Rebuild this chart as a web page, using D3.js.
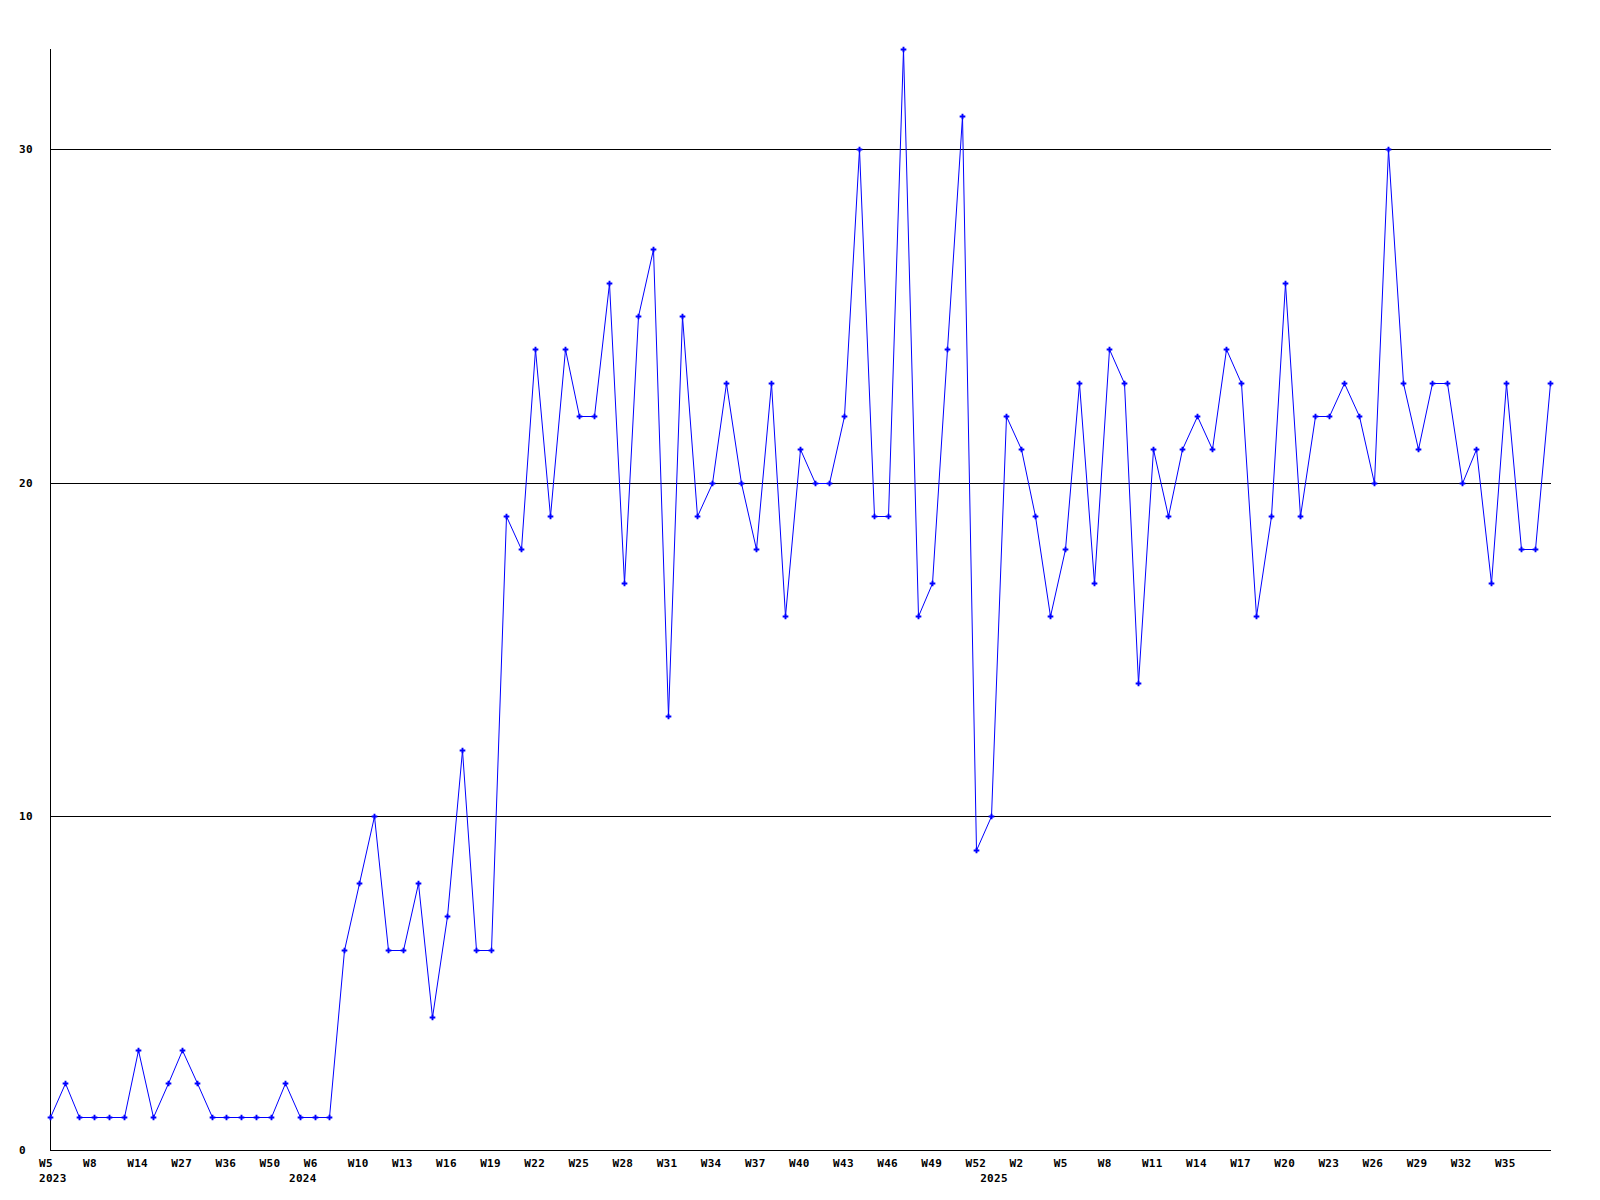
<!DOCTYPE html>
<html>
<head>
<meta charset="utf-8">
<script src="https://cdn.jsdelivr.net/npm/d3@7"></script>
<style>
  html, body { margin: 0; padding: 0; background: #fff; }
  svg { display: block; }
  text { font-family: "DejaVu Sans Mono", "Liberation Mono", monospace; font-weight: bold; font-size: 11px; letter-spacing: 0.3px; fill: #000; }
</style>
</head>
<body>
<svg id="chart" width="1600" height="1200"></svg>
<script>
// Weekly values, one per point (left to right)
const values = [
  1, 2, 1, 1, 1, 1, 3, 1, 2, 3,
  2, 1, 1, 1, 1, 1, 2, 1, 1, 1,
  6, 8, 10, 6, 6, 8, 4, 7, 12, 6,
  6, 19, 18, 24, 19, 24, 22, 22, 26, 17,
  25, 27, 13, 25, 19, 20, 23, 20, 18, 23,
  16, 21, 20, 20, 22, 30, 19, 19, 33, 16,
  17, 24, 31, 9, 10, 22, 21, 19, 16, 18,
  23, 17, 24, 23, 14, 21, 19, 21, 22, 21,
  24, 23, 16, 19, 26, 19, 22, 22, 23, 22,
  20, 30, 23, 21, 23, 23, 20, 21, 17, 23,
  18, 18, 23
];
// Week tick labels, shown at every third point
const tickIndex = [0, 3, 6, 9, 12, 15, 18, 21, 24, 27, 30, 33, 36, 39, 42, 45, 48, 51, 54, 57, 60, 63, 66, 69, 72, 75, 78, 81, 84, 87, 90, 93, 96, 99];
const tickLabels = ["W5", "W8", "W14", "W27", "W36", "W50", "W6", "W10", "W13", "W16", "W19", "W22", "W25", "W28", "W31", "W34", "W37", "W40", "W43", "W46", "W49", "W52", "W2", "W5", "W8", "W11", "W14", "W17", "W20", "W23", "W26", "W29", "W32", "W35"];
// Year labels and the point where each year starts
const yearIndex = [0, 17, 64];
const yearLabels = ["2023", "2024", "2025"];
// Y axis ticks
const yTicks = [0, 10, 20, 30];
const yMax = 33;

const svg = d3.select("#chart");
const x = d3.scalePoint().domain(d3.range(values.length)).range([50, 1550]);
const y = d3.scaleLinear().domain([0, yMax]).range([1150, 49]);
const px = i => Math.round(x(i)) + 0.5;
const py = v => Math.round(y(v)) + 0.5;

// grid lines
svg.append("g").selectAll("line").data(yTicks.filter(t => t > 0)).join("line")
  .attr("x1", 50).attr("x2", 1551)
  .attr("y1", d => py(d)).attr("y2", d => py(d))
  .attr("stroke", "#000").attr("stroke-width", 1);

// axes
svg.append("line").attr("x1", 50.5).attr("x2", 50.5).attr("y1", 49).attr("y2", py(0))
  .attr("stroke", "#000").attr("stroke-width", 1);
svg.append("line").attr("x1", 50).attr("x2", 1551).attr("y1", py(0)).attr("y2", py(0))
  .attr("stroke", "#000").attr("stroke-width", 1);

// y labels
svg.append("g").selectAll("text").data(yTicks).join("text")
  .attr("x", 19).attr("y", d => py(d)).attr("dy", "0.35em")
  .text(d => d);

// x labels
svg.append("g").selectAll("text").data(tickIndex).join("text")
  .attr("x", d => x(d) - 11).attr("y", 1167)
  .text((d, i) => tickLabels[i]);
svg.append("g").selectAll("text").data(yearIndex).join("text")
  .attr("x", d => x(d) - 11).attr("y", 1182)
  .text((d, i) => yearLabels[i]);

// line
const line = d3.line().x((d, i) => px(i)).y(d => py(d));
svg.append("path").datum(values).attr("d", line)
  .attr("fill", "none").attr("stroke", "#0000ff").attr("stroke-width", 1);

// markers
svg.append("g").selectAll("path").data(values).join("path")
  .attr("transform", (d, i) => `translate(${px(i)},${py(d)})`)
  .attr("d", d3.symbol(d3.symbolCross, 18))
  .attr("fill", "#0000ff");
</script>
</body>
</html>
